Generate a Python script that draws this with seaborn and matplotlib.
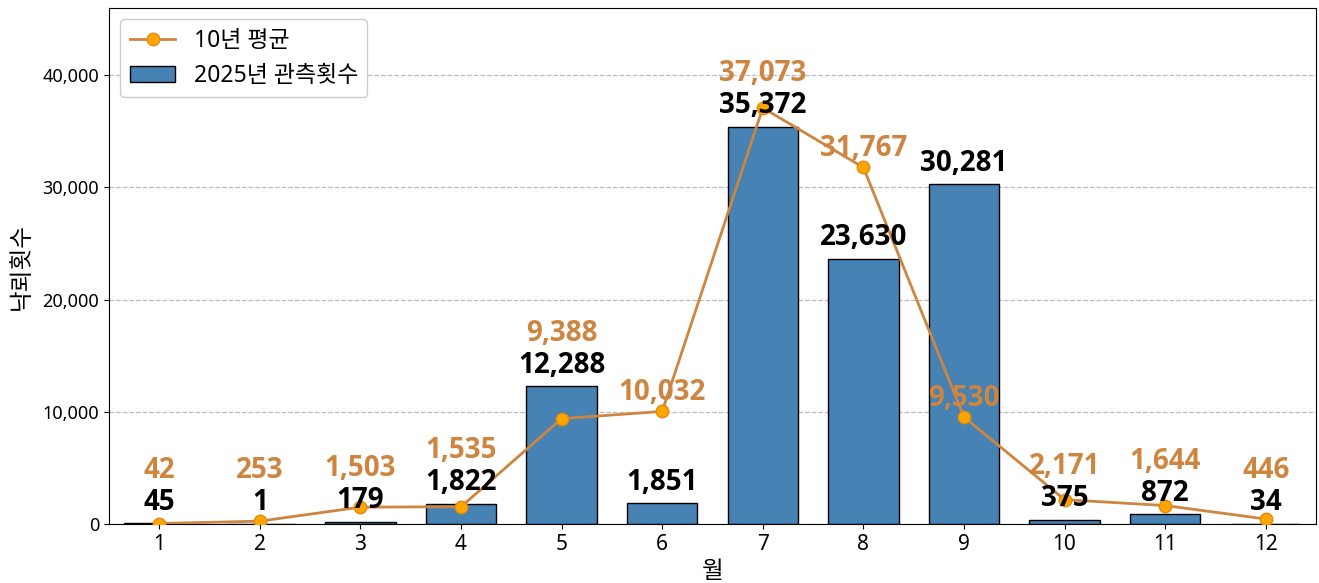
import matplotlib
matplotlib.use("Agg")
import matplotlib.pyplot as plt
import matplotlib.ticker as mticker
import numpy as np
import pandas as pd
import seaborn as sns

plt.rcParams['font.family'] = ['Noto Sans', 'Noto Sans CJK KR', 'DejaVu Sans']
plt.rcParams['axes.unicode_minus'] = False

months = [1, 2, 3, 4, 5, 6, 7, 8, 9, 10, 11, 12]
count_2025 = [45, 1, 179, 1822, 12288, 1851, 35372, 23630, 30281, 375, 872, 34]
avg_10yr = [42, 253, 1503, 1535, 9388, 10032, 37073, 31767, 9530, 2171, 1644, 446]

df = pd.DataFrame({'월': months, '2025': count_2025, 'avg': avg_10yr})

fig = plt.figure(figsize=(13.19, 5.83), dpi=100)
ax = fig.add_axes([109 / 1319, 1 - 524 / 583, (1316 - 109) / 1319, (524 - 8) / 583])

sns.barplot(data=df, x='월', y='2025', native_scale=True, width=0.7,
            color='#4682B4', saturation=1, edgecolor='black', linewidth=1,
            label='2025년 관측횟수', ax=ax, zorder=2)
sns.lineplot(data=df, x='월', y='avg', color='#CD853F', linewidth=2,
             marker='o', markersize=9, markerfacecolor='#FFA500',
             markeredgecolor='#E08A10', markeredgewidth=1,
             label='10년 평균', ax=ax, zorder=3)

ax.set_xlim(0.5, 12.5)
ax.set_ylim(0, max(max(count_2025), max(avg_10yr)) * 1.24)
ax.set_xticks(months)
ax.set_xticklabels([str(m) for m in months])
ax.tick_params(axis='x', labelsize=15)
ax.tick_params(axis='y', labelsize=13)
ax.yaxis.set_major_formatter(mticker.FuncFormatter(lambda v, p: f'{int(v):,}'))
ax.yaxis.set_major_locator(mticker.MultipleLocator(10000))
ax.grid(axis='y', linestyle='--', color='#BBBBBB', linewidth=0.9, zorder=0)
ax.set_axisbelow(True)
ax.set_xlabel('월', fontsize=17, labelpad=4)
ax.set_ylabel('낙뢰횟수', fontsize=17, labelpad=6)
for s in ax.spines.values():
    s.set_color('black')

# value labels: bar labels first, line labels moved up when they would overlap
lab_font = ['Open Sans', 'Noto Sans CJK KR', 'DejaVu Sans']
to_px = ax.transData.transform
px_per_pt = fig.dpi / 72.0
for m, c, a in zip(months, count_2025, avg_10yr):
    bar_px = to_px((m, c))[1] + 21
    avg_px = to_px((m, a))[1] + 19
    if abs(avg_px - bar_px) < 45:
        avg_px = bar_px + 32
    ax.annotate(f'{c:,}', (m, c), xytext=(0, 21 / px_per_pt), textcoords='offset points',
                ha='center', va='center', fontsize=20, fontweight='bold', family=lab_font,
                color='black', zorder=5)
    off = (avg_px - to_px((m, a))[1]) / px_per_pt
    ax.annotate(f'{a:,}', (m, a), xytext=(0, off), textcoords='offset points',
                ha='center', va='center', fontsize=20, fontweight='bold', family=lab_font,
                color='#CD853F', zorder=5)

h, l = ax.get_legend_handles_labels()
order = [l.index('10년 평균'), l.index('2025년 관측횟수')]
ax.legend([h[i] for i in order], [l[i] for i in order], loc='upper left', fontsize=16.5,
          framealpha=1, borderaxespad=0.5)

fig.savefig('out.png', dpi=100)
